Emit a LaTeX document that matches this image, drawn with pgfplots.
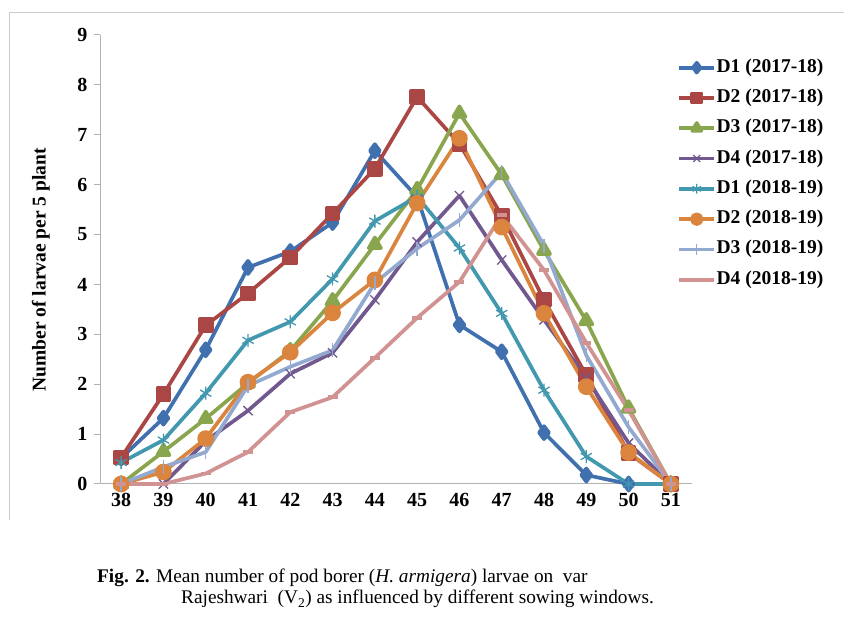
\documentclass[border=0pt]{standalone}
\usepackage{fontspec}
\setmainfont{Liberation Serif}
\usepackage{pgfplots}
\usepackage{pgfplotstable}
\pgfplotsset{compat=1.18}

\definecolor{cA}{HTML}{4170AE}
\definecolor{cB}{HTML}{AA4643}
\definecolor{cC}{HTML}{89A54E}
\definecolor{cD}{HTML}{71588F}
\definecolor{cE}{HTML}{4198AF}
\definecolor{cF}{HTML}{DB843D}
\definecolor{cG}{HTML}{93A9CF}
\definecolor{cH}{HTML}{D19392}

% week, then D1..D4 for 2017-18 and 2018-19
\pgfplotstableread{
wk  aa   ab   ac   ad   ba   bb   bc   bd
38  0.52 0.53 0.00 0.00 0.43 0.00 0.00 0.00
39  1.32 1.80 0.65 0.00 0.88 0.24 0.34 0.00
40  2.69 3.18 1.31 0.86 1.82 0.91 0.64 0.21
41  4.34 3.82 2.02 1.47 2.88 2.04 1.97 0.64
42  4.66 4.54 2.67 2.21 3.25 2.64 2.35 1.44
43  5.24 5.42 3.67 2.63 4.11 3.43 2.68 1.74
44  6.68 6.32 4.80 3.69 5.27 4.09 4.03 2.53
45  5.75 7.76 5.90 4.85 5.76 5.63 4.72 3.33
46  3.19 6.82 7.43 5.78 4.73 6.93 5.29 4.05
47  2.65 5.38 6.20 4.49 3.42 5.15 6.25 5.39
48  1.03 3.69 4.68 3.29 1.88 3.42 4.78 4.29
49  0.18 2.18 3.27 2.13 0.55 1.95 2.58 2.83
50  0.00 0.62 1.52 0.82 0.00 0.63 1.14 1.48
51  0.00 0.00 0.00 0.00 0.00 0.00 0.00 0.00
}\larvae

\begin{document}
\begin{tikzpicture}
\path[use as bounding box] (0pt,0pt) rectangle (844pt,628pt);
\draw[black!20, line width=1pt] (9pt,108pt) -- (9pt,615pt) -- (844pt,615pt);

\begin{axis}[
  at={(100pt,144pt)}, anchor=south west,
  scale only axis, width=592pt, height=449pt,
  xmin=37.5, xmax=51.5, ymin=0, ymax=9,
  axis x line*=bottom, axis y line*=left,
  axis line style={black!30, line width=1pt},
  xtick={38,...,51}, ytick={0,...,9},
  minor xtick={37.5,38.5,...,51.5},
  xtick style={draw=none},
  minor x tick style={black!30, line width=1pt},
  y tick style={black!30, line width=1pt},
  tick align=outside,
  major tick length=6pt, minor tick length=6pt,
  /pgf/number format/assume math mode=true,
  ticklabel style={font=\bfseries\fontsize{20}{24}\selectfont},
  yticklabel style={xshift=-3pt},
  ylabel={\bfseries Number of larvae per 5 plant},
  ylabel style={font=\fontsize{19.5}{23}\selectfont,
    at={(axis description cs:-0.1,0.477)}, anchor=center},
  clip=false,
  every axis plot/.append style={line width=3.7pt, line join=round},
  legend style={at={(axis description cs:0.975,0.9466)}, anchor=north west,
    draw=none, fill=none, inner sep=0pt, row sep=13.3pt,
    font=\bfseries\fontsize{19.5}{23}\selectfont,
    nodes={inner xsep=0.5pt, inner ysep=0pt, text height=13pt, text depth=4pt}},
  legend cell align=left,
  legend image post style={every mark/.append style={scale=0.75}},
  legend image code/.code={
    \draw[mark repeat=2, mark phase=2]
      plot coordinates {(0pt,0pt) (17.5pt,0pt) (35pt,0pt)};},
]
\addplot[cA, mark=diamond*, mark size=6.5pt] table[x=wk,y=aa] {\larvae};
\addlegendentry{D1 (2017-18)}
\addplot[cB, mark=square*, mark size=6pt] table[x=wk,y=ab] {\larvae};
\addlegendentry{D2 (2017-18)}
\addplot[cC, mark=triangle*, mark size=7pt] table[x=wk,y=ac] {\larvae};
\addlegendentry{D3 (2017-18)}
\addplot[cD, mark=x, mark size=6.5pt, mark options={line width=1.3pt}] table[x=wk,y=ad] {\larvae};
\addlegendentry{D4 (2017-18)}
\addplot[cE, mark=asterisk, mark size=6.5pt, mark options={line width=1.3pt}] table[x=wk,y=ba] {\larvae};
\addlegendentry{D1 (2018-19)}
\addplot[cF, mark=*, mark size=6.5pt] table[x=wk,y=bb] {\larvae};
\addlegendentry{D2 (2018-19)}
\addplot[cG, mark=|, mark size=7pt, mark options={line width=1.3pt}] table[x=wk,y=bc] {\larvae};
\addlegendentry{D3 (2018-19)}
\addplot[cH, mark=-, mark size=5pt, mark options={line width=3.7pt}] table[x=wk,y=bd] {\larvae};
\addlegendentry{D4 (2018-19)}
\end{axis}

\node[anchor=base west, inner sep=0pt, font=\fontsize{19.3}{23}\selectfont]
  at (97pt,45pt) {\textbf{Fig. 2.} Mean number of pod borer (\textit{H. armigera}) larvae on\ \ var};
\node[anchor=base west, inner sep=0pt, font=\fontsize{19.3}{23}\selectfont]
  at (181pt,24pt) {Rajeshwari\ \ (V\textsubscript{2}) as influenced by different sowing windows.};
\end{tikzpicture}
\end{document}
